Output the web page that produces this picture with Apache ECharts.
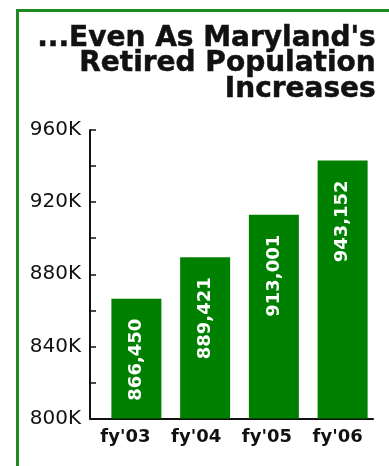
<!DOCTYPE html>
<html>
<head>
<meta charset="utf-8">
<script src="https://cdn.jsdelivr.net/npm/echarts@6/dist/echarts.min.js"></script>
<style>
  html, body { margin: 0; padding: 0; background: #fff; }
  #chart { width: 389px; height: 466px; }
</style>
</head>
<body>
<div id="chart"></div>
<script>
var categories = ["fy'03", "fy'04", "fy'05", "fy'06"];
var retirees = [866450, 889421, 913001, 943152];
var titleLines = ["...Even As Maryland's", "Retired Population", "Increases"];

var fmtNum = function (v) {
    return String(v).replace(/\B(?=(\d{3})+(?!\d))/g, ',');
};

var myChart = echarts.init(document.getElementById('chart'));

// one right-aligned text element per title line
var titleGraphics = titleLines.map(function (line, i) {
    return {
        type: 'text',
        right: 13,
        top: 24 + i * 25.5,
        style: {
            text: line,
            textAlign: 'right',
            font: 'bold 28px "DejaVu Sans"',
            fill: '#111',
            stroke: '#111',
            lineWidth: 0.5
        }
    };
});

var option = {
    backgroundColor: '#fff',
    animation: false,
    graphic: [{
        // green frame running off the right and bottom edges
        type: 'rect',
        shape: { x: 17.5, y: 10.5, width: 420, height: 500 },
        style: { fill: 'none', stroke: '#1f8a1f', lineWidth: 3 },
        z: -1
    }].concat(titleGraphics),
    grid: [
        { left: 90, right: 16, top: 130, bottom: 47.5 },   // axes
        { left: 102, right: 12, top: 130, bottom: 47.5 }   // bars
    ],
    xAxis: [{
        type: 'category',
        gridIndex: 0,
        data: categories,
        axisLine: { lineStyle: { color: '#111', width: 2 } },
        axisTick: { show: false },
        axisLabel: {
            margin: 10,
            fontFamily: 'DejaVu Sans',
            fontWeight: 'bold',
            fontSize: 18,
            color: '#111'
        }
    }, {
        type: 'category',
        gridIndex: 1,
        data: categories,
        show: false
    }],
    yAxis: [{
        type: 'value',
        gridIndex: 0,
        min: 800000,
        max: 960000,
        interval: 20000,
        splitLine: { show: false },
        axisLine: { show: true, lineStyle: { color: '#111', width: 2 } },
        axisTick: { show: true, inside: true, length: 6, lineStyle: { color: '#111', width: 1.5 } },
        axisLabel: {
            margin: 9,
            fontFamily: 'DejaVu Sans',
            fontSize: 20,
            color: '#111',
            formatter: function (v) { return v % 40000 === 0 ? (v / 1000) + 'K' : ''; }
        }
    }, {
        type: 'value',
        gridIndex: 1,
        min: 800000,
        max: 960000,
        show: false
    }],
    series: [{
        type: 'bar',
        xAxisIndex: 1,
        yAxisIndex: 1,
        data: retirees,
        barWidth: 50,
        itemStyle: { color: '#008000' },
        label: {
            show: true,
            position: 'insideTop',
            distance: 20,
            rotate: 90,
            align: 'right',
            verticalAlign: 'middle',
            fontFamily: 'DejaVu Sans',
            fontWeight: 'bold',
            fontSize: 18,
            color: '#fff',
            formatter: function (p) { return fmtNum(p.value); }
        }
    }]
};

myChart.setOption(option);
</script>
</body>
</html>
